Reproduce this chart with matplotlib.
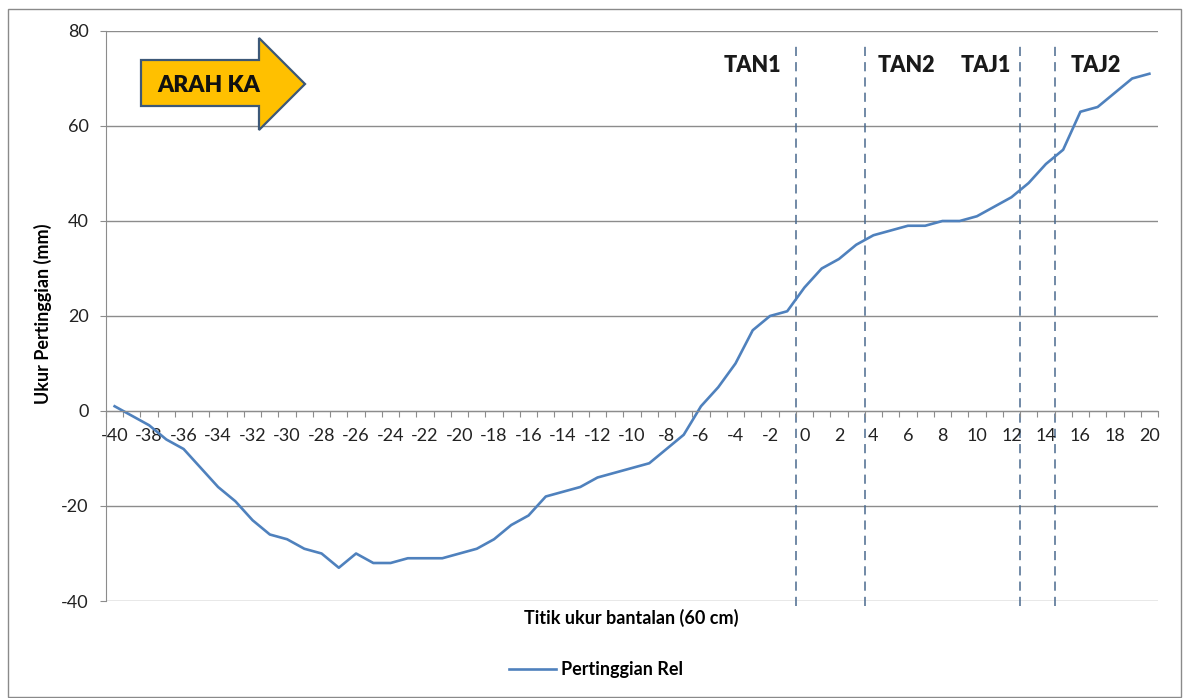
import matplotlib
matplotlib.use("Agg")
import matplotlib.pyplot as plt
import numpy as np
from matplotlib.patches import Polygon, Rectangle
from matplotlib.lines import Line2D

plt.rcParams['font.family'] = ['Lato', 'DejaVu Sans']
plt.rcParams['axes.unicode_minus'] = False

# data: measurement points and rail elevation (mm)
titik = list(range(-40, 21))
pertinggian = [1, -1, -3, -6, -8, -12, -16, -19, -23, -26,
               -27, -29, -30, -33, -30, -32, -32, -31, -31, -31,
               -30, -29, -27, -24, -22, -18, -17, -16, -14, -13,
               -12, -11, -8, -5, 1, 5, 10, 17, 20, 21,
               26, 30, 32, 35, 37, 38, 39, 39, 40, 40,
               41, 43, 45, 48, 52, 55, 63, 64, 67, 70, 71]
batas = [-0.5, 3.5, 12.5, 14.5]
label_bagian = ['TAN1', 'TAN2', 'TAJ1', 'TAJ2']
x_ticks = list(range(-40, 21, 2))
y_ticks = [-40, -20, 0, 20, 40, 60, 80]

W, H = 1183, 698
fig = plt.figure(figsize=(W / 100, H / 100), dpi=100)
ax = fig.add_axes([106 / W, 1 - 601 / H, (1158 - 106) / W, 570 / H])

grid_col = '#8c8c8c'
ax.plot(titik, pertinggian, color='#4F81BD', lw=1.9, solid_joinstyle='round')

ax.set_xlim(-40.5, 20.5)
ax.set_ylim(-40, 80)
ax.set_yticks(y_ticks)
for y in y_ticks:
    ax.axhline(y, color=grid_col, lw=1, zorder=0)

# spines / axes
for s in ['top', 'right']:
    ax.spines[s].set_visible(False)
ax.spines['bottom'].set_position(('data', 0))
ax.spines['bottom'].set_color(grid_col)
ax.spines['left'].set_color(grid_col)
ax.tick_params(axis='y', length=4.5, color=grid_col, labelsize=13, pad=8, labelcolor='#222222')

# category boundaries get ticks, even categories get labels
ax.set_xticks(np.arange(-40.5, 21, 1))
ax.set_xticklabels([])
ax.set_xticks(x_ticks, minor=True)
ax.set_xticklabels([str(v) for v in x_ticks], minor=True)
ax.tick_params(axis='x', which='major', length=4, color=grid_col, direction='out')
ax.tick_params(axis='x', which='minor', length=0, labelsize=13, pad=12, labelcolor='#222222')

# section boundaries
for b in batas:
    ax.axvline(b, ymin=-0.008, ymax=0.981, color='#4a6a8e', lw=1.1,
               dashes=(6, 4), clip_on=False, zorder=1)
for nama, xp in zip(label_bagian, [-3.0, 5.9, 10.5, 16.9]):
    ax.text(xp, 72.8, nama, fontsize=15.5, fontweight='heavy', ha='center', va='center',
            color='#1a1a1a')

# direction arrow
pts = [(141, 60), (259, 60), (259, 38), (305, 84), (259, 130), (259, 106), (141, 106)]
pts = [(x / W, 1 - y / H) for x, y in pts]
fig.add_artist(Polygon(pts, closed=True, transform=fig.transFigure,
                       facecolor='#FFC000', edgecolor='#3C5878', lw=1.6))
fig.text(209 / W, 1 - 85 / H, 'ARAH KA', fontsize=16.5, fontweight='heavy',
         ha='center', va='center', color='#111111')

# titles
fig.text(43 / W, 1 - 314 / H, 'Ukur Pertinggian (mm)', rotation=90, fontsize=13,
         fontweight='bold', ha='center', va='center')
fig.text(631 / W, 1 - 618 / H, 'Titik ukur bantalan (60 cm)', fontsize=13,
         fontweight='bold', ha='center', va='center')

# legend
handle = Line2D([], [], color='#4F81BD', lw=1.9)
fig.legend([handle], ['Pertinggian Rel'], loc='center', bbox_to_anchor=(596 / W, 1 - 670 / H),
           frameon=False, prop={'size': 13, 'weight': 'bold'}, handlelength=2.6,
           handletextpad=0.3)

# outer chart border
fig.add_artist(Rectangle((8 / W, 1 - 697 / H), (1181 - 8) / W, (697 - 9) / H,
                         transform=fig.transFigure, fill=False, edgecolor='#8a8a8a', lw=1))

fig.savefig('out.png', dpi=100)
